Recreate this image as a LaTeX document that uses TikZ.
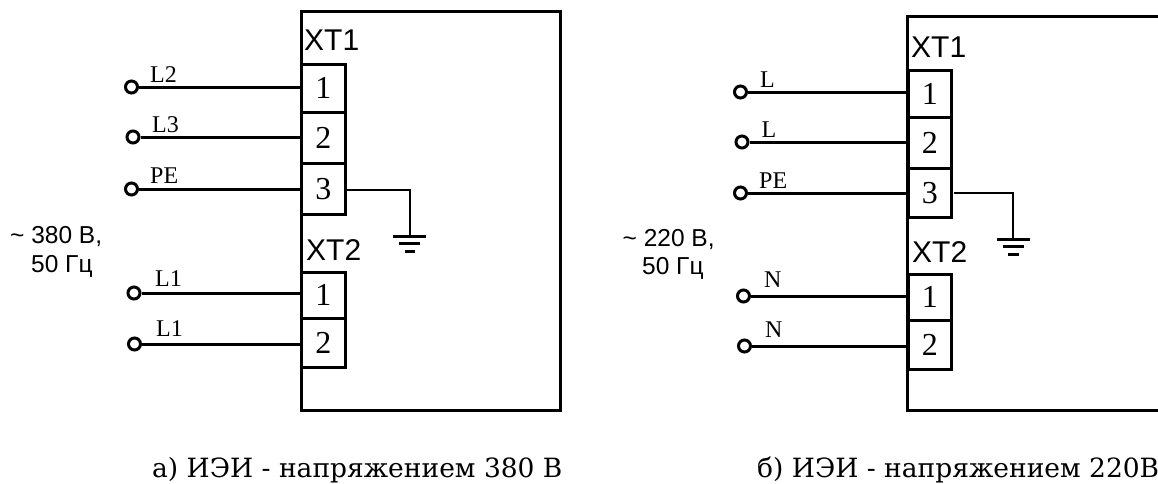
\documentclass[tikz,border=0pt]{standalone}
\usepackage{fontspec}
\setmainfont{Liberation Serif}
\newfontfamily\arialf{Liberation Sans}
\newfontfamily\capf{DejaVu Serif}
\tikzset{
 x=1pt,y=-1pt,
 wire/.style={line width=3pt,draw=black},
 thinwire/.style={line width=2.6pt,draw=black},
 frame/.style={draw=black,line width=3pt,fill=none},
 term/.style={draw=black,line width=2.8pt,minimum width=44pt,anchor=north west,inner sep=0pt,font=\fontsize{32}{32}\selectfont},
 pin/.style={circle,draw=black,line width=3pt,minimum size=12pt,inner sep=0pt},
 wlabel/.style={font=\fontsize{24}{24}\selectfont,inner sep=0pt,anchor=base west},
 xtlabel/.style={font=\arialf\fontsize{30}{30}\selectfont,inner sep=0pt,anchor=base west},
 src/.style={font=\arialf\fontsize{24.5}{24.5}\selectfont,inner sep=0pt,anchor=base west},
 captext/.style={font=\capf\fontsize{26.5}{26.5}\selectfont,inner sep=0pt,anchor=base west},
}
\begin{document}
\begin{tikzpicture}
\useasboundingbox (0,0) rectangle (1158,483);
% left
\node[frame,minimum width=259pt,minimum height=399pt,anchor=north west] (boxA) at (300,10) {};
\node[term,minimum height=48pt] (a1) at (300,63) {1};
\node[term,minimum height=51pt] (a2) at (300,111) {2};
\node[term,minimum height=51pt] (a3) at (300,162) {3};
\node[term,minimum height=46pt] (a4) at (300,271) {1};
\node[term,minimum height=49pt] (a5) at (300,317) {2};
\node[xtlabel] (ax1) at (304,50) {XT1};
\node[xtlabel] (ax2) at (306,260) {XT2};
\node[pin] (pa1) at (131.5,87) {};
\node[pin] (pa2) at (133,137) {};
\node[pin] (pa3) at (131.5,189) {};
\node[pin] (pa4) at (134,293) {};
\node[pin] (pa5) at (134.5,344) {};
\draw[wire] (pa1) -- (pa1 -| a1.west);
\draw[wire] (pa2) -- (pa2 -| a2.west);
\draw[wire] (pa3) -- (pa3 -| a3.west);
\draw[wire] (pa4) -- (pa4 -| a4.west);
\draw[wire] (pa5) -- (pa5 -| a5.west);
\node[wlabel] (la1) at (150,82) {L2};
\node[wlabel] (la2) at (152,132) {L3};
\node[wlabel] (la3) at (150,183) {PE};
\node[wlabel] (la4) at (155,286) {L1};
\node[wlabel] (la5) at (156,336) {L1};
\coordinate (ga) at (410,236);
\draw[thinwire] (a3.east) ++(0,1) -| (ga);
\draw[wire] (393,236) -- (426,236);
\draw[wire] (399,243) -- (420,243);
\draw[wire] (405,251) -- (415,251);
\node[src] (sa1) at (10,243) {\char"007E{} 380 В,};
\node[src] (sa2) at (31,272) {50 Гц};
\node[captext] (ca) at (152,477) {а) ИЭИ - напряжением 380 В};
% right
\draw[frame] (1158,16) -- (907,16) -- (907,410) -- (1158,410);
\node[term,minimum height=47pt,minimum width=43pt] (b1) at (907,69) {1};
\node[term,minimum height=51pt,minimum width=43pt] (b2) at (907,116) {2};
\node[term,minimum height=49pt,minimum width=43pt] (b3) at (907,167) {3};
\node[term,minimum height=46pt,minimum width=43pt] (b4) at (907,273) {1};
\node[term,minimum height=49pt,minimum width=43pt] (b5) at (907,319) {2};
\node[xtlabel] (bx1) at (911,57) {XT1};
\node[xtlabel] (bx2) at (912,262) {XT2};
\node[pin] (pb1) at (740.5,92) {};
\node[pin] (pb2) at (742,142) {};
\node[pin] (pb3) at (740.5,193) {};
\node[pin] (pb4) at (743.5,296) {};
\node[pin] (pb5) at (744.5,346) {};
\draw[wire] (pb1) -- (pb1 -| b1.west);
\draw[wire] (pb2) -- (pb2 -| b2.west);
\draw[wire] (pb3) -- (pb3 -| b3.west);
\draw[wire] (pb4) -- (pb4 -| b4.west);
\draw[wire] (pb5) -- (pb5 -| b5.west);
\node[wlabel] (lb1) at (760,87) {L};
\node[wlabel] (lb2) at (761.5,137) {L};
\node[wlabel] (lb3) at (759,188) {PE};
\node[wlabel] (lb4) at (764,287) {N};
\node[wlabel] (lb5) at (765,337) {N};
\coordinate (gb) at (1013,239);
\draw[thinwire] (b3.east) ++(1,0) -| (gb);
\draw[wire] (997,239) -- (1030,239);
\draw[wire] (1003,246) -- (1024,246);
\draw[wire] (1008,254) -- (1019,254);
\node[src] (sb1) at (622.5,246) {\char"007E{} 220 В,};
\node[src] (sb2) at (642,274) {50 Гц};
\node[captext] (cb) at (757,477.5) {б) ИЭИ - напряжением 220В};
\end{tikzpicture}
\end{document}
